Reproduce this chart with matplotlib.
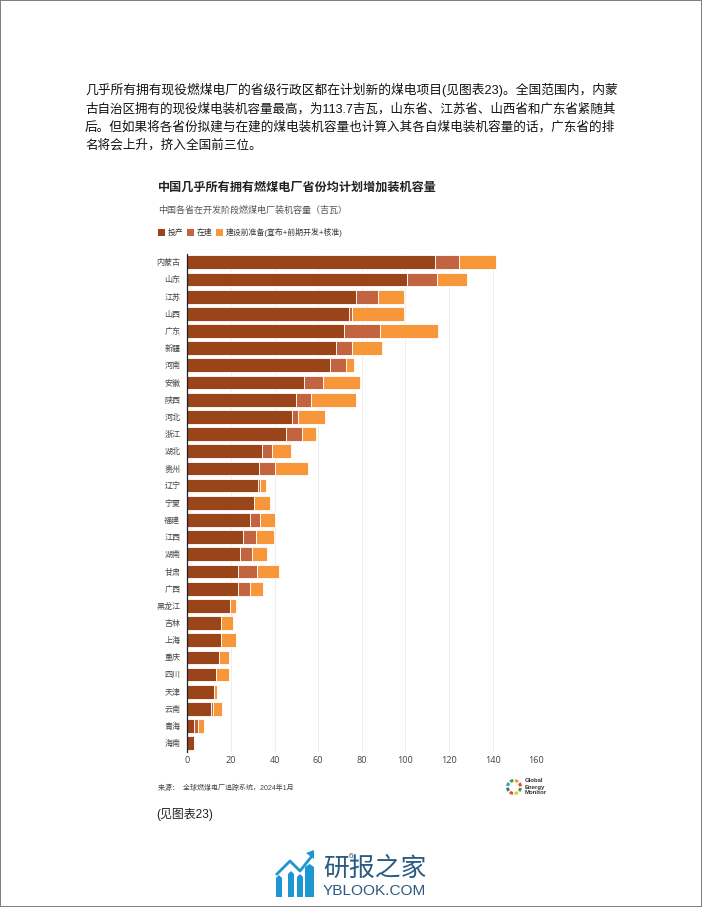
import matplotlib
matplotlib.use("Agg")
import matplotlib.pyplot as plt
from matplotlib.patches import Rectangle, Wedge, Polygon

plt.rcParams['font.family'] = ['Liberation Sans', 'Noto Sans CJK SC', 'DejaVu Sans']

provinces = ['内蒙古','山东','江苏','山西','广东','新疆','河南','安徽','陕西','河北','浙江','湖北','贵州','辽宁','宁夏',
             '福建','江西','湖南','甘肃','广西','黑龙江','吉林','上海','重庆','四川','天津','云南','青海','海南']
operating = [113.7,100.9,77.4,74.3,71.9,68.2,65.4,53.5,49.8,47.9,45.1,34.3,32.7,32.6,30.6,
             28.6,25.4,24.0,23.2,23.1,19.6,15.7,15.3,14.4,13.0,12.1,10.9,3.1,3.1]
construction = [11.0,13.5,10.1,1.1,16.3,7.2,7.4,8.5,6.8,2.9,7.3,4.5,7.5,0.6,0.0,
                4.6,6.1,5.7,8.8,5.8,0.0,0.0,0.0,0.0,0.0,0.0,0.9,1.8,0.0]
pre_construction = [16.6,14.0,11.7,24.1,26.8,13.7,3.7,17.0,20.8,12.2,6.5,8.6,15.3,2.9,7.5,
                    7.2,8.3,6.7,10.2,5.7,2.9,5.2,7.2,4.6,6.1,1.5,4.1,2.7,0.0]
series_names = ['投产', '在建', '建设前准备(宣布+前期开发+核准)']
colors = ['#9A4419', '#C26440', '#F79739']
x_ticks = [0,20,40,60,80,100,120,140,160]

W, H = 702, 907
fig = plt.figure(figsize=(W/100, H/100), dpi=100, facecolor='white')

def px(x, y):
    return x/W, 1-y/H

body = ['几乎所有拥有现役燃煤电厂的省级行政区都在计划新的煤电项目(见图表23)。全国范围内，内蒙',
        '古自治区拥有的现役煤电装机容量最高，为113.7吉瓦，山东省、江苏省、山西省和广东省紧随其',
        '后。但如果将各省份拟建与在建的煤电装机容量也计算入其各自煤电装机容量的话，广东省的排',
        '名将会上升，挤入全国前三位。']
for s, y, fs in zip(body, [90, 109, 127, 145], [9.18, 9.03, 9.08, 9.06]):
    fig.text(*px(85, y), s, fontsize=fs, color='#111111', va='center', ha='left')

fig.text(*px(158, 187.5), '中国几乎所有拥有燃煤电厂省份均计划增加装机容量', fontsize=8.7, fontweight='bold', color='#222222', va='center')
fig.text(*px(158, 210), '中国各省在开发阶段燃煤电厂装机容量（吉瓦）', fontsize=6.5, color='#555555', va='center')

lx = [158, 187, 216]
for x, name, c in zip(lx, series_names, colors):
    fig.add_artist(Rectangle(px(x, 236), 7/W, 7/H, transform=fig.transFigure, color=c, lw=0))
    fig.text(*px(x+9.5, 232.5), name, fontsize=5.65, color='#333333', va='center')

ax = fig.add_axes([187.2/W, 1-751.9/H, 349.2/W, 498.2/H])
ypos = list(range(len(provinces)))
left = [0]*len(provinces)
for vals, c in zip([operating, construction, pre_construction], colors):
    ax.barh(ypos, vals, left=left, height=0.8, color=c, edgecolor='white', linewidth=0.6, zorder=3)
    left = [a+b for a, b in zip(left, vals)]
ax.set_xlim(0, 160)
ax.set_ylim(28.5, -0.5)
ax.set_yticks(ypos, provinces, fontsize=5.8, color='#444444')
ax.set_xticks(x_ticks, [str(t) for t in x_ticks], fontsize=6.6, color='#444444', family=['Open Sans'])
ax.tick_params(length=0, pad=3)
ax.tick_params(axis='y', pad=5)
ax.grid(axis='x', color='#EEEEEE', lw=0.7, zorder=0)
ax.set_axisbelow(True)
for s in ['top','right','bottom']:
    ax.spines[s].set_visible(False)
ax.spines['left'].set_color('#222222')
ax.spines['left'].set_linewidth(0.9)
ax.spines['left'].set_zorder(5)

fig.text(*px(158, 788), '来源：  全球燃煤电厂追踪系统，2024年1月', fontsize=5, color='#444444', va='center')
fig.text(*px(156, 814.5), '(见图表23)', fontsize=8.6, color='#222222', va='center')

# Global Energy Monitor mark
cx, cy = 514, 787
ring = ['#E24A33','#F0A030','#3B9E4A','#4A90D9','#2E8B57','#E24A33','#F0C030','#3B9E4A']
for i, c in enumerate(ring):
    a = i*45
    fig.add_artist(Wedge((cx, H-cy), 8, a+6, a+36, width=3, color=c, lw=0, transform=None))
for s, y in zip(['Global','Energy','Monitor'], [781, 787, 793]):
    fig.text(*px(525, y), s, fontsize=4.3, fontweight='bold', color='#333333', va='center')

# page number and watermark
fig.text(*px(351, 857), '6', fontsize=6, color='#555555', ha='center', va='center')
blue = '#1E96D2'
for x0, x1, top in [(276, 282, 875), (288, 294, 871), (297, 303, 874), (305, 314, 864)]:
    fig.add_artist(Polygon([px(x0, 897), px(x0, top+3), px((x0+x1)/2, top), px(x1, top+3), px(x1, 897)],
                           transform=fig.transFigure, color=blue, lw=0))
fig.add_artist(plt.Line2D([px(277,0)[0], px(290,0)[0], px(300,0)[0], px(312,0)[0]],
                          [px(0,874)[1], px(0,861)[1], px(0,871)[1], px(0,856)[1]],
                          color=blue, lw=2, transform=fig.transFigure))
fig.add_artist(Polygon([px(306,853), px(314,850), px(314,859)], transform=fig.transFigure, color=blue, lw=0))
fig.text(*px(323, 868), '研报之家', fontsize=18.6, color='#2A5B84', va='center', family=['Noto Sans CJK SC'])
fig.text(*px(323, 891), 'YBLOOK.COM', fontsize=11.1, color='#2A5B84', va='center', family=['Liberation Sans'])

# page border
for r in [(0, 0, 1, 1.5/H), (0, 1-1/H, 1, 1/H), (0, 0, 1/W, 1), (1-1.5/W, 0, 1.5/W, 1)]:
    fig.add_artist(Rectangle(r[:2], r[2], r[3], transform=fig.transFigure, color='#808080', lw=0))

fig.savefig('out.png', dpi=100)
